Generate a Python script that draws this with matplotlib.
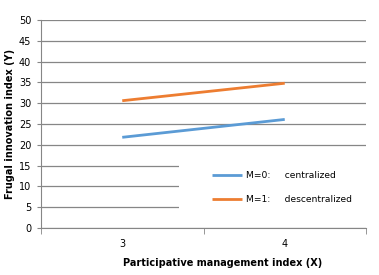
import matplotlib
matplotlib.use("Agg")
from matplotlib import pyplot as plt
from matplotlib.patches import Rectangle
import numpy as np

# data
x_labels = ["3", "4"]
m0_centralized = [21.8, 26.1]
m1_decentralized = [30.6, 34.8]
y_ticks = [0, 5, 10, 15, 20, 25, 30, 35, 40, 45, 50]

grid_col = "#868686"

fig = plt.figure(figsize=(3.79, 2.75), dpi=100)
ax = fig.add_axes([41 / 379, 1 - 228 / 275, (366 - 41) / 379, (228 - 20) / 275])

x = np.arange(len(x_labels))
ax.plot(x, m0_centralized, color="#5B9BD5", lw=2.0, solid_capstyle="butt", label="M=0:     centralized", zorder=3)
ax.plot(x, m1_decentralized, color="#ED7D31", lw=2.0, solid_capstyle="butt", label="M=1:     descentralized", zorder=3)

ax.set_xlim(-0.5, len(x_labels) - 0.5)
ax.set_ylim(0, 50)
ax.set_yticks(y_ticks)
ax.set_xticks(x)
ax.set_xticklabels(x_labels)
ax.set_xticks([-0.5, 0.5, 1.5], minor=True)
ax.tick_params(axis="x", which="major", length=0, pad=8, labelsize=7)
ax.tick_params(axis="x", which="minor", length=4, color=grid_col, direction="out")
ax.tick_params(axis="y", length=3, color=grid_col, labelsize=7, pad=4)

ax.grid(axis="y", color=grid_col, lw=0.9)
ax.set_axisbelow(True)
for s in ["top", "right"]:
    ax.spines[s].set_visible(False)
ax.spines["left"].set_color(grid_col)
ax.spines["bottom"].set_color(grid_col)

ax.set_xlabel("Participative management index (X)", fontsize=7, fontweight="bold")
ax.xaxis.set_label_coords((222.5 - 41) / 325, -0.145)
ax.set_ylabel("Frugal innovation index (Y)", fontsize=7, fontweight="bold", labelpad=3)

# white legend area hides the gridlines behind it
ax.add_patch(Rectangle((0.425, 2.5 / 50), 0.575, 15 / 50, transform=ax.transAxes,
                       facecolor="white", edgecolor="none", zorder=1))
leg = ax.legend(loc="center left", bbox_to_anchor=((212 - 41) / 325, (228 - 187.5) / 208),
                frameon=False, fontsize=6.6, handlelength=3.3, handletextpad=0.4,
                labelspacing=1.6, borderpad=0, borderaxespad=0)

fig.savefig("out.png", dpi=100)
